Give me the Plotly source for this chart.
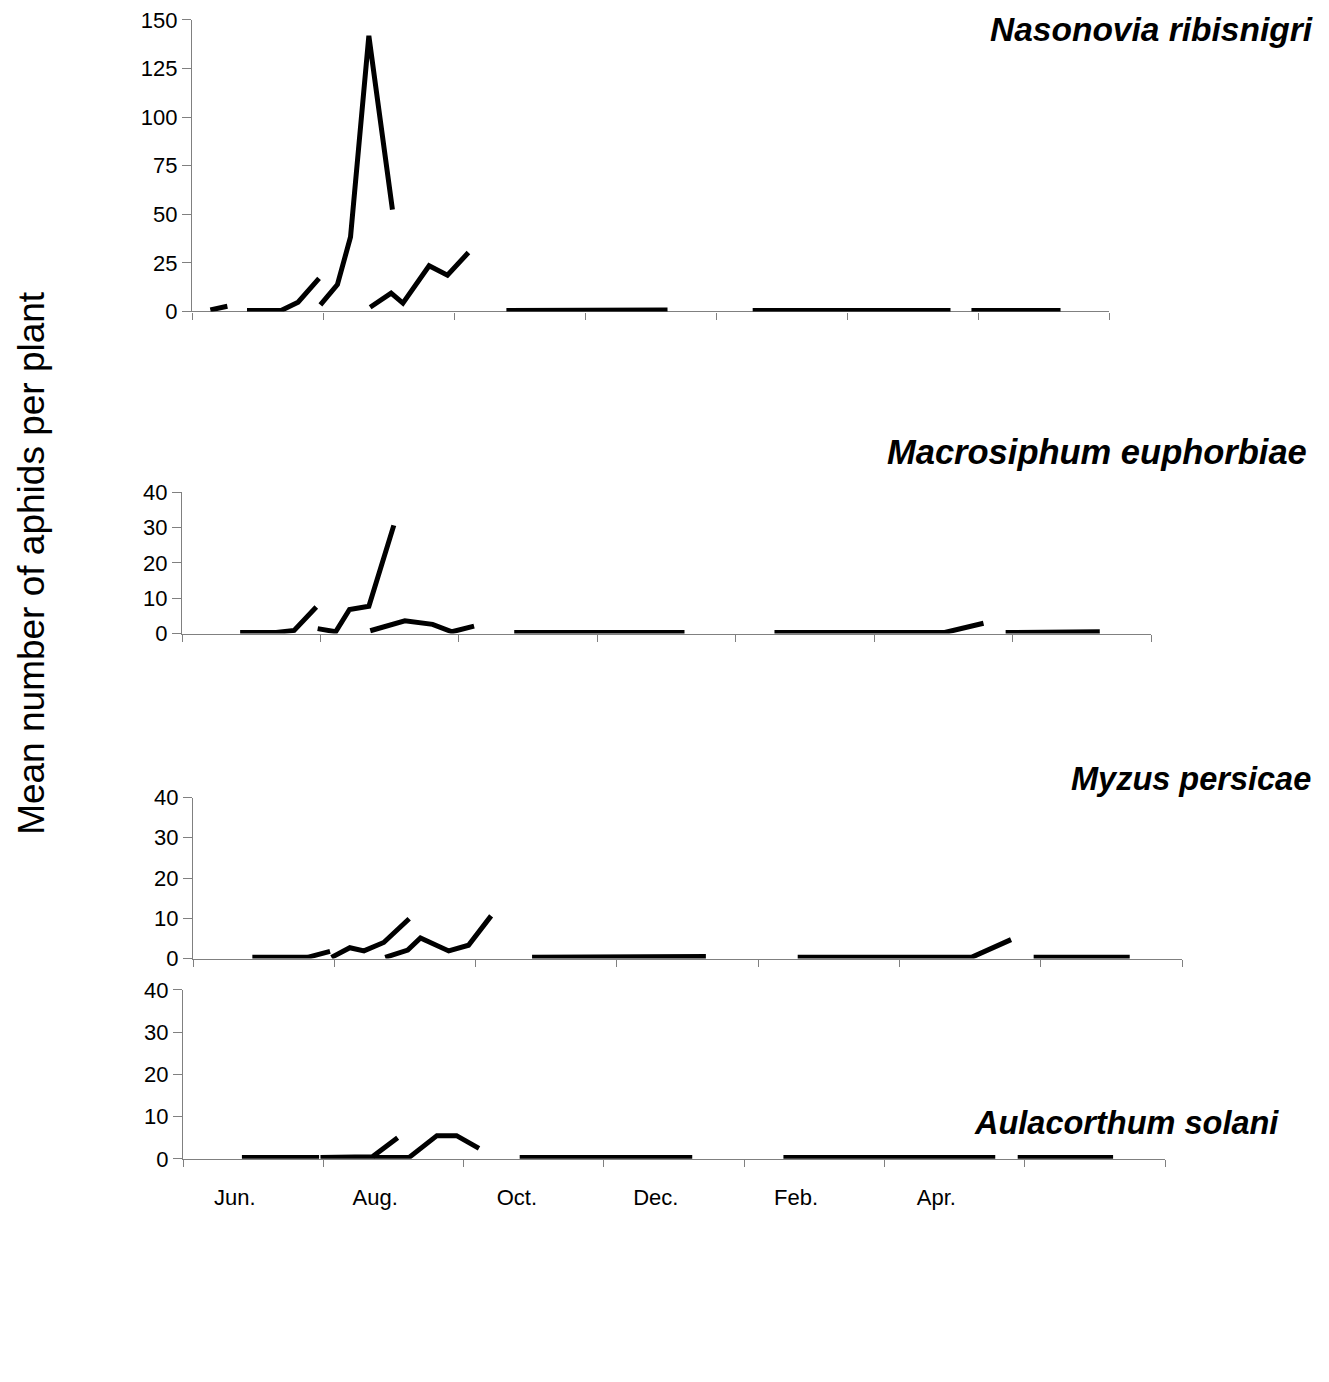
import plotly.graph_objects as go

W, H = 1329, 1382

# ---------------- data ----------------
months = ["Jun.", "Aug.", "Oct.", "Dec.", "Feb.", "Apr."]
month_pos = [0.37, 1.37, 2.38, 3.37, 4.37, 5.37]   # label positions (axis units: 2-month intervals)
species = ["Nasonovia ribisnigri", "Macrosiphum euphorbiae", "Myzus persicae", "Aulacorthum solani"]
y_title = "Mean number of aphids per plant"

# sampling dates of the successive plantings (axis units: 2-month intervals from start)
t1 = [0.14, 0.27]
t2 = [0.42, 0.56, 0.68, 0.81, 0.97]
t3 = [0.98, 1.11, 1.21, 1.35, 1.53]
t4 = [1.36, 1.52, 1.61, 1.81, 1.95, 2.11]
t5 = [2.40, 2.51, 2.83, 3.09, 3.37, 3.63]
t6 = [4.28, 4.61, 4.87, 5.23, 5.51, 5.79]
t7 = [5.95, 6.21, 6.52, 6.63]
sample_times = [t1, t2, t3, t4, t5, t6, t7]

nasonovia = [
    [0.8, 2.7],
    [0.5, 0.5, 0.5, 4.8, 17.0],
    [3.4, 13.8, 38.3, 141.8, 52.4],
    [2.2, 9.4, 4.3, 23.5, 18.7, 30.3],
    [0.5, 0.5, 0.5, 0.5, 0.5, 0.8],
    [0.5, 0.5, 0.5, 0.5, 0.5, 0.5],
    [0.5, 0.5, 0.5, 0.5],
]
macrosiphum = [
    None,
    [0.3, 0.3, 0.3, 0.9, 7.5],
    [1.4, 0.5, 6.8, 7.7, 30.6],
    [0.8, 2.5, 3.6, 2.6, 0.5, 2.1],
    [0.3, 0.3, 0.3, 0.3, 0.3, 0.3],
    [0.3, 0.3, 0.3, 0.3, 0.3, 2.9],
    [0.3, 0.3, 0.3, 0.5],
]
myzus = [
    None,
    [0.3, 0.3, 0.3, 0.3, 1.8],
    [0.3, 2.7, 1.9, 4.0, 9.9],
    [0.3, 2.1, 5.1, 1.9, 3.3, 10.6],
    [0.3, 0.3, 0.3, 0.3, 0.3, 0.5],
    [0.3, 0.3, 0.3, 0.3, 0.3, 4.7],
    [0.3, 0.3, 0.3, 0.3],
]
aulacorthum = [
    None,
    [0.3, 0.3, 0.3, 0.3, 0.3],
    [0.3, 0.3, 0.3, 0.5, 5.0],
    [0.3, 0.3, 0.3, 5.5, 5.5, 2.5],
    [0.3, 0.3, 0.3, 0.3, 0.3, 0.3],
    [0.3, 0.3, 0.3, 0.3, 0.3, 0.3],
    [0.3, 0.3, 0.3, 0.3],
]
all_series = [nasonovia, macrosiphum, myzus, aulacorthum]
y_max = [150, 40, 40, 40]
y_step = [25, 10, 10, 10]

# ---------------- layout (pixel geometry) ----------------
# (x_left, x_right, y_zero, y_top) in pixels
panels = [
    (192, 1109, 305, 8),
    (182, 1151, 633, 489),
    (193, 1182, 964, 800),
    (183, 1165, 1168, 996),
]
# (right edge x, centre y, font size)
label_pos = [(1315, 18, 33.5), (1309, 448, 34.5), (1313, 781, 32.5), (1281, 1131, 32.5)]

FONT = "Arial, Liberation Sans, sans-serif"
GRAY = "#808080"

fig = go.Figure()


def build(segs):
    xs, ys = [], []
    for tx, vals in zip(sample_times, segs):
        if vals is None:
            continue
        xs += list(tx) + [None]
        ys += list(vals) + [None]
    return xs, ys


for i, segs in enumerate(all_series):
    n = i + 1
    xs, ys = build(segs)
    fig.add_trace(go.Scatter(
        x=xs, y=ys, mode="lines", connectgaps=False,
        line=dict(color="black", width=5),
        xaxis=f"x{n}", yaxis=f"y{n}", showlegend=False, hoverinfo="skip",
    ))

    xl, xr, yz, yt = panels[i]
    xa = dict(
        domain=[xl / W, xr / W], range=[0, 7], anchor=f"y{n}",
        showline=True, linecolor=GRAY, linewidth=1.3,
        showgrid=False, zeroline=False, layer="below traces",
        fixedrange=True,
    )
    if n < 4:
        xa.update(tickmode="array", tickvals=list(range(8)), ticks="outside",
                  ticklen=7, tickcolor=GRAY, tickwidth=1.3, showticklabels=False)
    else:
        xa.update(tickmode="array", tickvals=month_pos, ticktext=months, ticks="",
                  tickfont=dict(family=FONT, size=22, color="black"),
                  ticklabelstandoff=19,
                  minor=dict(tickmode="array", tickvals=list(range(8)), ticks="outside",
                             ticklen=7, tickcolor=GRAY, tickwidth=1.3, showgrid=False))
    ya = dict(
        domain=[1 - yz / H, 1 - yt / H], range=[0, y_max[i]], anchor=f"x{n}",
        showline=True, linecolor=GRAY, linewidth=1.3,
        tickmode="array", tickvals=list(range(0, y_max[i] + 1, y_step[i])),
        ticks="outside", ticklen=9, tickcolor=GRAY, tickwidth=1.3,
        tickfont=dict(family=FONT, size=22, color="black"),
        showgrid=False, zeroline=False, layer="below traces", fixedrange=True,
    )
    key = "" if n == 1 else str(n)
    fig.update_layout(**{f"xaxis{key}": xa, f"yaxis{key}": ya})

annotations = []
for name, (px, py, fs) in zip(species, label_pos):
    annotations.append(dict(
        text=f"<b><i>{name}</i></b>", x=px / W, y=1 - py / H,
        xref="paper", yref="paper", xanchor="right", yanchor="middle",
        showarrow=False, font=dict(family=FONT, size=fs, color="black"),
    ))
annotations.append(dict(
    text=y_title, x=32 / W, y=1 - 561 / H, xref="paper", yref="paper",
    xanchor="center", yanchor="middle", textangle=-90, showarrow=False,
    font=dict(family=FONT, size=37, color="black"),
))

fig.update_layout(
    width=W, height=H, margin=dict(l=0, r=0, t=0, b=0),
    paper_bgcolor="white", plot_bgcolor="white",
    annotations=annotations, showlegend=False,
)

fig.write_html(
    "out.html",
    config={"displayModeBar": False},
    post_script="document.body.style.margin='0';document.body.style.overflow='hidden';",
)
